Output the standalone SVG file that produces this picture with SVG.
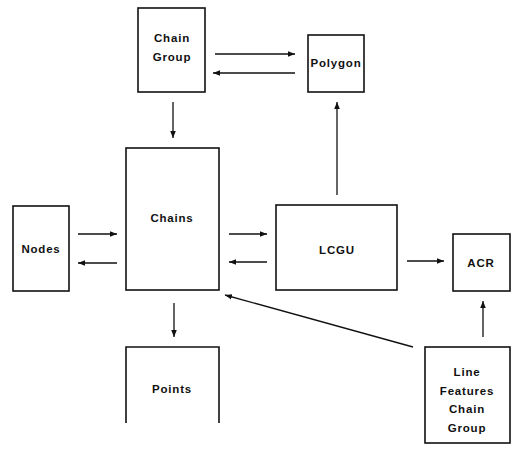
<svg xmlns="http://www.w3.org/2000/svg" width="515" height="453" viewBox="0 0 515 453">
<style>
.box{fill:#fff;stroke:#111;stroke-width:1.6}
.lbl{font-family:"Liberation Sans",Arial,sans-serif;font-weight:bold;font-size:11.5px;letter-spacing:0.8px;fill:#111;text-anchor:middle}
.con line{stroke:#111;stroke-width:1.3;fill:none}
</style>
<defs>
<marker id="ah" viewBox="0 0 10 10" refX="10" refY="5" markerWidth="7" markerHeight="7" markerUnits="userSpaceOnUse" orient="auto">
<path d="M0,1 L10,5 L0,9 Z" fill="#111"/>
</marker>
</defs>
<rect width="515" height="453" fill="#fff"/>
<g id="chain-group"><rect class="box" x="138" y="8" width="67" height="84"/><text class="lbl" x="172" y="42">Chain</text><text class="lbl" x="172" y="61">Group</text></g>
<g id="polygon"><rect class="box" x="308" y="35" width="56" height="57"/><text class="lbl" x="336" y="67">Polygon</text></g>
<g id="chains"><rect class="box" x="126" y="148" width="93" height="142"/><text class="lbl" x="172" y="222">Chains</text></g>
<g id="nodes"><rect class="box" x="13" y="206" width="56" height="85"/><text class="lbl" x="41" y="253">Nodes</text></g>
<g id="lcgu"><rect class="box" x="276" y="205" width="121" height="85"/><text class="lbl" x="337" y="254">LCGU</text></g>
<g id="acr"><rect class="box" x="453" y="234" width="57" height="57"/><text class="lbl" x="481" y="267">ACR</text></g>
<g id="points"><path class="box" d="M126,423 V347 H219 V423" fill="none"/><text class="lbl" x="172" y="393">Points</text></g>
<g id="line-features"><rect class="box" x="425" y="347" width="85" height="96"/><text class="lbl" x="467" y="376">Line</text><text class="lbl" x="467" y="395">Features</text><text class="lbl" x="467" y="413">Chain</text><text class="lbl" x="467" y="432">Group</text></g>
<g class="con" id="connectors">
<line x1="215" y1="54" x2="295" y2="54" marker-end="url(#ah)"/>
<line x1="295" y1="73" x2="213" y2="73" marker-end="url(#ah)"/>
<line x1="173" y1="102" x2="173" y2="138" marker-end="url(#ah)"/>
<line x1="337" y1="195" x2="337" y2="102" marker-end="url(#ah)"/>
<line x1="78" y1="234" x2="117" y2="234" marker-end="url(#ah)"/>
<line x1="117" y1="263" x2="78" y2="263" marker-end="url(#ah)"/>
<line x1="229" y1="234" x2="267" y2="234" marker-end="url(#ah)"/>
<line x1="267" y1="262" x2="229" y2="262" marker-end="url(#ah)"/>
<line x1="407" y1="261" x2="444" y2="261" marker-end="url(#ah)"/>
<line x1="483" y1="337" x2="483" y2="301" marker-end="url(#ah)"/>
<line x1="413" y1="347" x2="225" y2="295" marker-end="url(#ah)"/>
<line x1="174" y1="303" x2="174" y2="337" marker-end="url(#ah)"/>
</g>
</svg>
